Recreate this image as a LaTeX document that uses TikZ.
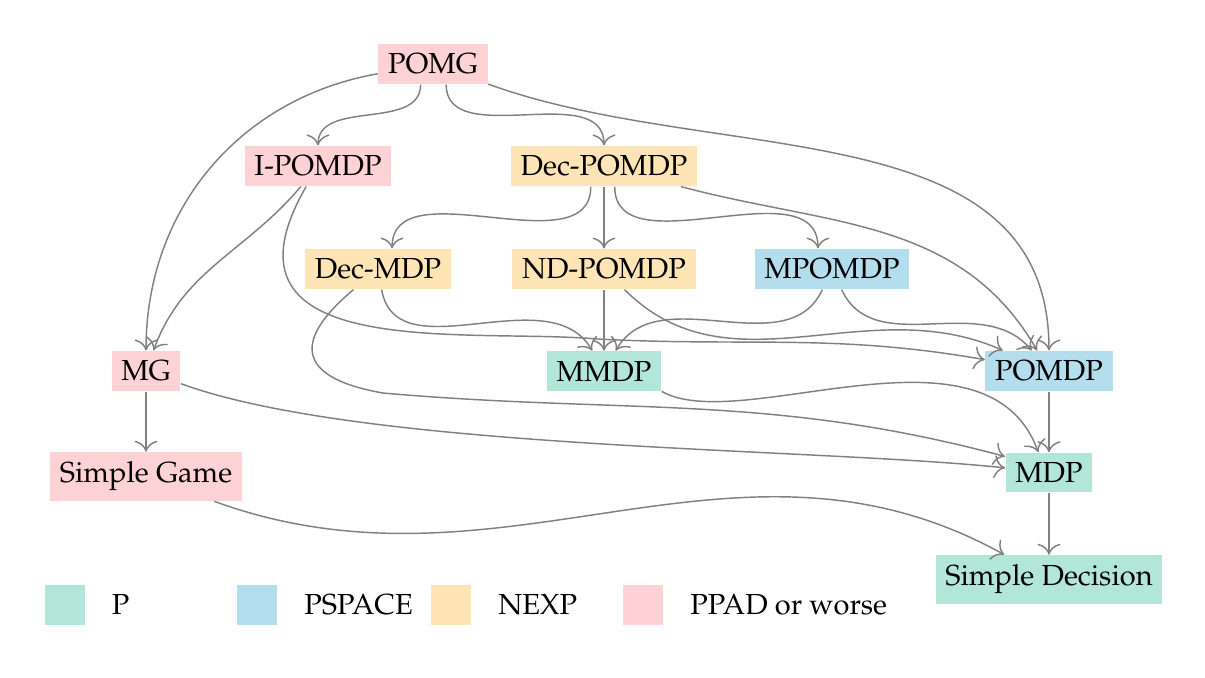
\documentclass[tikz,border=0pt]{standalone}
\usepackage[T1]{fontenc}
\usepackage{mathpazo}
\usepackage{xcolor}
\usetikzlibrary{arrows.meta,positioning}

\definecolor{clsP}{RGB}{178,230,216}
\definecolor{clsPSPACE}{RGB}{180,222,237}
\definecolor{clsNEXP}{RGB}{255,228,181}
\definecolor{clsPPAD}{RGB}{255,211,214}

\begin{document}
\begin{tikzpicture}[
  inP/.style={fill=clsP},
  inPSPACE/.style={fill=clsPSPACE},
  inNEXP/.style={fill=clsNEXP},
  inPPAD/.style={fill=clsPPAD},
  key/.style={minimum width=13.8pt,minimum height=13.8pt,inner sep=0pt},
  link/.style={draw=gray,line width=0.5pt,-{To[scale=1.4]}}
 ]
 \useasboundingbox (0,0) rectangle (14.606,-8.218);

 \node [inPPAD] (pomg) at (5.248,-0.776) {POMG};
 \node [inPPAD] (ipomdp) at (3.855,-2.012) {I-POMDP};
 \node [inNEXP] (decpomdp) at (7.321,-2.012) {Dec-POMDP};
 \node [inNEXP] (decmdp) at (4.582,-3.261) {Dec-MDP};
 \node [inNEXP] (ndpomdp) at (7.321,-3.261) {ND-POMDP};
 \node [inPSPACE] (mpomdp) at (10.085,-3.261) {MPOMDP};
 \node [inPPAD] (mg) at (1.770,-4.497) {MG};
 \node [inP] (mmdp) at (7.321,-4.497) {MMDP};
 \node [inPSPACE] (pomdp) at (12.715,-4.497) {POMDP};
 \node [inPPAD] (sgame) at (1.770,-5.776) {Simple Game};
 \node [inP] (mdp) at (12.715,-5.727) {MDP};
 \node [inP] (sdec) at (12.715,-7.024) {Simple Decision};

 \coordinate (ip1) at (7.236,-4.109);
 \coordinate (dm1) at (4.642,-4.764);

 \draw[link] ([xshift=-0.15cm]pomg.south) to[out=-90,in=90] (ipomdp.north);
 \draw[link] ([xshift=0.16cm]pomg.south) to[out=-90,in=90] (decpomdp.north);
 \draw[link] (pomg) to[out=190,in=90] (mg);
 \draw[link] (pomg) to[out=-20,in=90] (pomdp);

 \draw[link] (ipomdp) to[out=-130,in=70] (mg);
 \draw[link] (ipomdp) to[out=-120,in=175,out looseness=1.6] (ip1) to[out=-3,in=170] (pomdp);

 \draw[link] (decpomdp) -- (ndpomdp);
 \draw[link] ([xshift=-0.16cm]decpomdp.south) to[out=-90,in=90] ([xshift=0.17cm]decmdp.north);
 \draw[link] ([xshift=0.13cm]decpomdp.south) to[out=-90,in=90] ([xshift=-0.17cm]mpomdp.north);
 \draw[link] (decpomdp) to[out=-15,in=120] (pomdp);

 \draw[link] (decmdp) to[out=-80,in=120] (mmdp);
 \draw[link] (decmdp) to[out=-140,in=170,looseness=2] (dm1) to[out=-5,in=165] (mdp.160);
 \draw[link] (ndpomdp) -- (mmdp);
 \draw[link] (ndpomdp) to[out=-45,in=156] (pomdp);
 \draw[link] (mpomdp) to[out=-115,in=60] (mmdp);
 \draw[link] (mpomdp) to[out=-65,in=130] (pomdp);

 \draw[link] (mg) -- (sgame);
 \draw[link] (mg) to[out=-20,in=174,looseness=0.6] (mdp);
 \draw[link] (mmdp.south east) to[out=-30,in=110,out distance=1.09cm,in distance=1.82cm] ([xshift=-0.13cm]mdp.north);
 \draw[link] (pomdp) -- (mdp);
 \draw[link] (sgame) to[out=-20,in=151] (sdec);
 \draw[link] (mdp) -- (sdec);

 % legend
 \node [key,inP] (keyP) at (0.782,-7.333) {};
 \node [key,inPSPACE] (keyPSPACE) at (3.115,-7.333) {};
 \node [key,inNEXP] (keyNEXP) at (5.467,-7.333) {};
 \node [key,inPPAD] (keyPPAD) at (7.794,-7.333) {};
 \node [right=0.2cm of keyP] (txtP) {P};
 \node [right=0.2cm of keyPSPACE] (txtPSPACE) {PSPACE};
 \node [right=0.2cm of keyNEXP] (txtNEXP) {NEXP};
 \node [right=0.2cm of keyPPAD] (txtPPAD) {PPAD or worse};

\end{tikzpicture}
\end{document}
